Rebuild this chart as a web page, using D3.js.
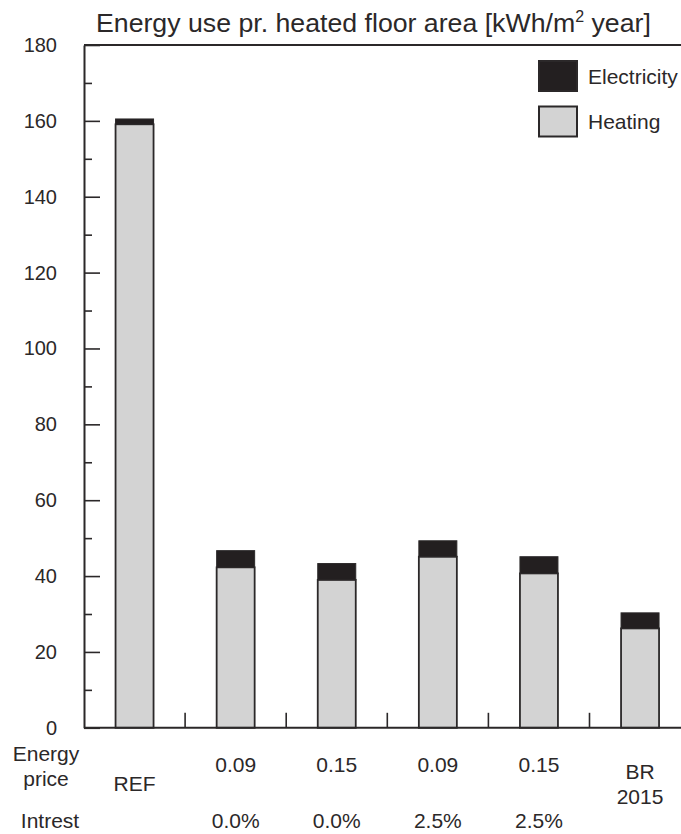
<!DOCTYPE html>
<html>
<head>
<meta charset="utf-8">
<script src="https://cdn.jsdelivr.net/npm/d3@7"></script>
<style>
  html, body { margin: 0; padding: 0; background: #fff; overflow: hidden; }
  svg { display: block; font-family: "Liberation Sans", Arial, sans-serif; }
</style>
</head>
<body>
<svg id="chart" width="681" height="834"></svg>
<script>
// Categories (variants) and the labels shown beneath them
const categories = ["REF", "v1", "v2", "v3", "v4", "BR2015"];
const priceLabels = ["", "0.09", "0.15", "0.09", "0.15", ""];
const interestLabels = ["", "0.0%", "0.0%", "2.5%", "2.5%", ""];
const nameLabels = [["REF"], null, null, null, null, ["BR", "2015"]];

// Energy use [kWh/m2 year]
const heating = [159.1, 42.3, 39.0, 45.1, 40.7, 26.2];
const electricity = [1.4, 4.4, 4.3, 4.2, 4.4, 4.1];

const yTicks = [0, 20, 40, 60, 80, 100, 120, 140, 160, 180];
const yMinorTicks = [10, 30, 50, 70, 90, 110, 130, 150, 170];

const INK = "#2b2829";
const HEAT_FILL = "#d3d3d3";
const ELEC_FILL = "#231f20";

const svg = d3.select("#chart");

const plotLeft = 84, plotRight = 690.6, plotTop = 45, plotBottom = 727.8;

const x = d3.scaleBand().domain(categories).range([plotLeft, plotRight]).paddingInner(0).paddingOuter(0);
const y = d3.scaleLinear().domain([0, 180]).range([plotBottom, plotTop]);

const barW = 38;

// Frame: top edge and right edge
svg.append("path")
  .attr("d", `M${plotLeft},${y(180)}H${plotRight}V${y(0)}`)
  .attr("fill", "none").attr("stroke", INK).attr("stroke-width", 2);

// Bars: heating base with electricity stacked on top
const g = svg.append("g");
categories.forEach((c, i) => {
  const cx = x(c) + x.bandwidth() / 2;
  g.append("rect")
    .attr("x", cx - barW / 2).attr("width", barW)
    .attr("y", y(heating[i])).attr("height", y(0) - y(heating[i]))
    .attr("fill", HEAT_FILL).attr("stroke", INK).attr("stroke-width", 1.8);
  const tot = heating[i] + electricity[i];
  g.append("rect")
    .attr("x", cx - barW / 2).attr("width", barW)
    .attr("y", y(tot)).attr("height", y(heating[i]) - y(tot))
    .attr("fill", ELEC_FILL).attr("stroke", INK).attr("stroke-width", 1);
});

// Y axis: major ticks with labels, minor ticks between
const yAxis = d3.axisLeft(y).tickValues(yTicks).tickSizeInner(-16).tickSizeOuter(0).tickPadding(27).tickFormat(d3.format("d"));
const ya = svg.append("g").attr("transform", `translate(${plotLeft},0)`).call(yAxis);
ya.select(".domain").attr("stroke", INK).attr("stroke-width", 2);
ya.selectAll(".tick line").attr("stroke", INK).attr("stroke-width", 1.6);
ya.selectAll(".tick text").attr("font-size", 20).attr("fill", INK)
  .attr("font-family", "'Liberation Sans', Arial, sans-serif");

const yMinor = d3.axisLeft(y).tickValues(yMinorTicks).tickSizeInner(-8).tickSizeOuter(0).tickFormat("");
const ym = svg.append("g").attr("transform", `translate(${plotLeft},0)`).call(yMinor);
ym.select(".domain").remove();
ym.selectAll(".tick line").attr("stroke", INK).attr("stroke-width", 1.6);

// X axis baseline with ticks at band boundaries
svg.append("line")
  .attr("x1", plotLeft).attr("x2", plotRight).attr("y1", y(0)).attr("y2", y(0))
  .attr("stroke", INK).attr("stroke-width", 2);
categories.slice(1).forEach(c => {
  svg.append("line")
    .attr("x1", x(c)).attr("x2", x(c))
    .attr("y1", y(0)).attr("y2", y(0) - 15)
    .attr("stroke", INK).attr("stroke-width", 1.6);
});

// Category labels
const lab = svg.append("g").attr("font-size", 21).attr("fill", INK).attr("text-anchor", "middle");
categories.forEach((c, i) => {
  const cx = x(c) + x.bandwidth() / 2;
  if (priceLabels[i]) lab.append("text").attr("x", cx).attr("y", 772).text(priceLabels[i]);
  if (interestLabels[i]) lab.append("text").attr("x", cx).attr("y", 828).text(interestLabels[i]);
  const nm = nameLabels[i];
  if (nm) {
    if (nm.length === 1) {
      lab.append("text").attr("x", cx).attr("y", 791).text(nm[0]);
    } else {
      lab.append("text").attr("x", cx).attr("y", 779).text(nm[0]);
      lab.append("text").attr("x", cx).attr("y", 804).text(nm[1]);
    }
  }
});
lab.append("text").attr("x", 46).attr("y", 761).text("Energy");
lab.append("text").attr("x", 46).attr("y", 786).text("price");
lab.append("text").attr("x", 50).attr("y", 828).text("Intrest");

// Title
const title = svg.append("text").attr("x", 96).attr("y", 32).attr("font-size", 26.7).attr("fill", INK);
title.append("tspan").text("Energy use pr. heated floor area [kWh/m");
title.append("tspan").attr("font-size", 16).attr("dy", -10).text("2");
title.append("tspan").attr("dy", 10).text(" year]");

// Legend
const legendItems = [
  { name: "Electricity", fill: ELEC_FILL },
  { name: "Heating", fill: HEAT_FILL }
];
const leg = svg.append("g");
legendItems.forEach((d, i) => {
  const yy = 61 + i * 45.5;
  leg.append("rect").attr("x", 539).attr("y", yy).attr("width", 38).attr("height", 30)
    .attr("fill", d.fill).attr("stroke", INK).attr("stroke-width", 2);
  leg.append("text").attr("x", 588).attr("y", yy + 22.5).attr("font-size", 21).attr("fill", INK).text(d.name);
});
</script>
</body>
</html>
